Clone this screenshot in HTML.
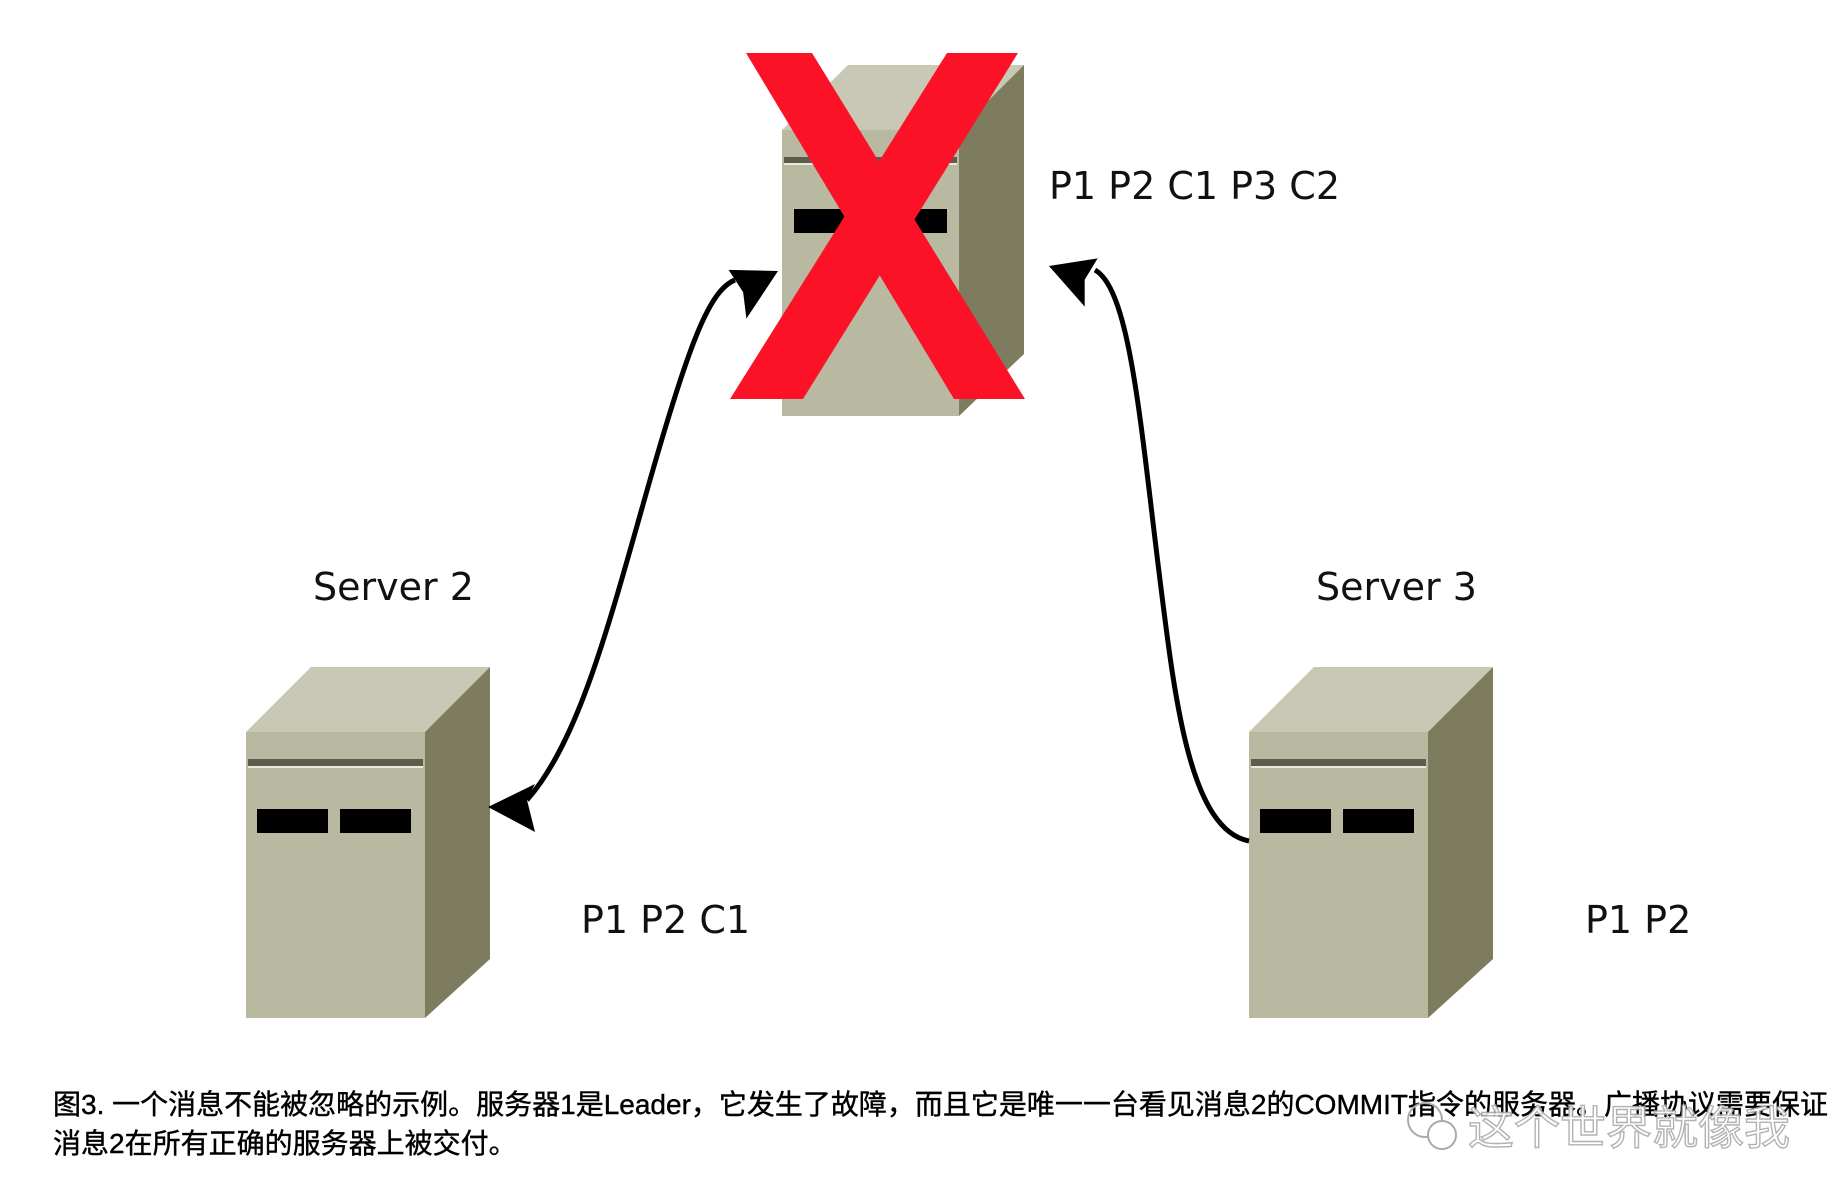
<!DOCTYPE html>
<html><head><meta charset="utf-8"><style>
html,body{margin:0;padding:0;background:#fff;}
svg{display:block}
</style></head><body>
<svg width="1842" height="1200" viewBox="0 0 1842 1200" xmlns="http://www.w3.org/2000/svg">
<!-- Server 1 -->
<polygon points="782,130 848,65 1024,65 959,130" fill="#c8c8b4"/>
<polygon points="959,130 1024,65 1024,354 959,416" fill="#7d7c5e"/>
<rect x="782" y="130" width="177" height="286" fill="#b9b8a0"/>
<rect x="784" y="157" width="173" height="6" fill="#5d5d4c"/>
<rect x="784" y="163" width="173" height="2" fill="#e8e8dc"/>
<rect x="794" y="209" width="153" height="24" fill="#000"/>
<!-- red X -->
<polygon points="746,53 812,53 1025,399 954,399" fill="#fb1226"/>
<polygon points="947,53 1018,53 803,399 730,399" fill="#fb1226"/>
<!-- Server 2 -->
<polygon points="246,732 311,667 490,667 425,732" fill="#c8c8b4"/>
<polygon points="425,732 490,667 490,959 425,1018" fill="#7d7c5e"/>
<rect x="246" y="732" width="179" height="286" fill="#b9b8a0"/>
<rect x="248" y="759" width="175" height="7" fill="#5d5d4c"/>
<rect x="248" y="766" width="175" height="2" fill="#e8e8dc"/>
<rect x="257" y="809" width="71" height="24" fill="#000"/>
<rect x="340" y="809" width="71" height="24" fill="#000"/>
<!-- Server 3 -->
<polygon points="1249,732 1314,667 1493,667 1428,732" fill="#c8c8b4"/>
<polygon points="1428,732 1493,667 1493,959 1428,1018" fill="#7d7c5e"/>
<rect x="1249" y="732" width="179" height="286" fill="#b9b8a0"/>
<rect x="1251" y="759" width="175" height="7" fill="#5d5d4c"/>
<rect x="1251" y="766" width="175" height="2" fill="#e8e8dc"/>
<rect x="1260" y="809" width="71" height="24" fill="#000"/>
<rect x="1343" y="809" width="71" height="24" fill="#000"/>
<!-- left connector -->
<path d="M527,800 C580,740 610,620 650,480 C690,340 710,290 735,280" fill="none" stroke="#000" stroke-width="5"/>
<polygon points="488,807 535,784 527,800 535,832" fill="#000"/>
<polygon points="778,271 732,253 738,279 732,305" fill="#000" transform="rotate(-20 778 271)"/>
<!-- right connector -->
<path d="M1249,841 C1190,830 1175,700 1160,580 C1140,420 1130,290 1095,270" fill="none" stroke="#000" stroke-width="5"/>
<polygon points="1049,266 1094,246 1087,270 1094,296" fill="#000" transform="rotate(15 1049 266)"/>
<!-- labels -->
<g font-family="DejaVu Sans, sans-serif" font-size="38" fill="#111">
<text x="1049" y="199">P1 P2 C1 P3 C2</text>
<text x="313" y="600">Server 2</text>
<text x="1316" y="600">Server 3</text>
<text x="581" y="933">P1 P2 C1</text>
<text x="1585" y="933">P1 P2</text>
</g>
<g font-family="Liberation Sans, Noto Sans CJK SC, sans-serif" font-size="28" fill="#000" stroke="#000" stroke-width="0.4">
<text x="53" y="1114">图3. 一个消息不能被忽略的示例。服务器1是Leader，它发生了故障，而且它是唯一一台看见消息2的COMMIT指令的服务器。广播协议需要保证</text>
<text x="53" y="1153">消息2在所有正确的服务器上被交付。</text>
</g>
<text x="1468" y="1144" font-family="Noto Sans CJK SC, sans-serif" font-size="46" fill="#fff" stroke="#aaa" stroke-width="1.4" opacity="0.9">这个世界就像我</text>
<circle cx="1425" cy="1120" r="17" fill="none" stroke="#aaa" stroke-width="2"/>
<circle cx="1442" cy="1135" r="14" fill="#fff" stroke="#aaa" stroke-width="2"/>
</svg>
</body></html>
